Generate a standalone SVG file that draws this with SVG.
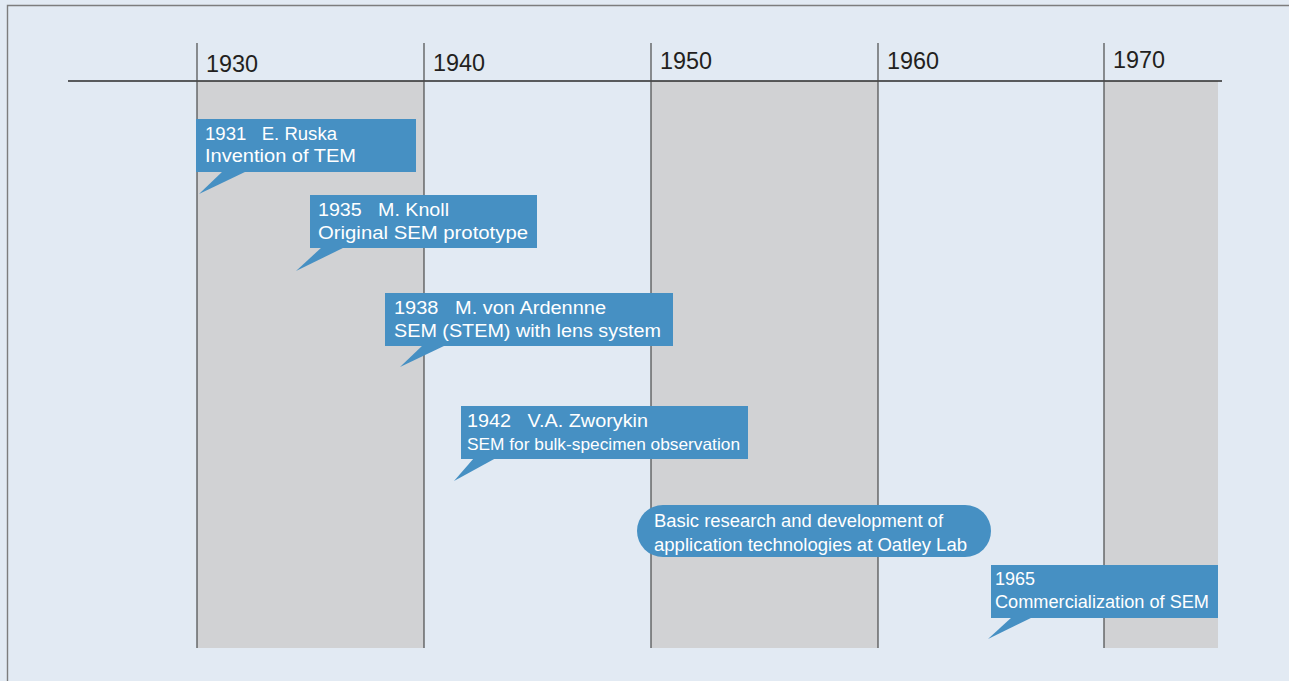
<svg xmlns="http://www.w3.org/2000/svg" width="1289" height="681" viewBox="0 0 1289 681">
<style>
.bg{fill:#e2eaf3}
.frame{fill:none;stroke:#7d7d7d;stroke-width:1.4}
.band{fill:#d1d2d4}
.vline{stroke:#4a4a4a;stroke-width:1.2}
.axis{stroke:#2b2b2b;stroke-width:1.4}
.year{font-family:"Liberation Sans",Arial,sans-serif;font-size:23px;fill:#231f20}
.box{fill:#4690c3}
.t{font-family:"Liberation Sans",Arial,sans-serif;font-size:17.5px;fill:#ffffff;white-space:pre}
.s{font-size:16.5px}
</style>
<rect class="bg" x="0" y="0" width="1289" height="681"/>
<path class="frame" d="M7.5 681 V5.5 H1289"/>
<g id="bands">
<rect class="band" x="197" y="81" width="227" height="567"/>
<rect class="band" x="651" y="81" width="227" height="567"/>
<rect class="band" x="1104" y="81" width="114" height="567"/>
</g>
<g id="axis">
<line class="axis" x1="68" y1="81" x2="1222" y2="81"/>
<line class="vline" x1="197" y1="43" x2="197" y2="648"/>
<line class="vline" x1="424" y1="43" x2="424" y2="648"/>
<line class="vline" x1="651" y1="43" x2="651" y2="648"/>
<line class="vline" x1="878" y1="43" x2="878" y2="648"/>
<line class="vline" x1="1104" y1="43" x2="1104" y2="648"/>
<text class="year" x="206" y="72" textLength="52" lengthAdjust="spacingAndGlyphs">1930</text>
<text class="year" x="433" y="70.5" textLength="52" lengthAdjust="spacingAndGlyphs">1940</text>
<text class="year" x="660" y="68.5" textLength="52" lengthAdjust="spacingAndGlyphs">1950</text>
<text class="year" x="887" y="68.5" textLength="52" lengthAdjust="spacingAndGlyphs">1960</text>
<text class="year" x="1113" y="67.5" textLength="52" lengthAdjust="spacingAndGlyphs">1970</text>
</g>
<g id="connectors"></g>
<g id="n1931">
<rect class="box" x="196" y="119" width="220" height="53"/>
<polygon class="box" points="223,171 247,171 199,194"/>
<text class="t" x="205" y="139.5" textLength="132" lengthAdjust="spacingAndGlyphs" xml:space="preserve">1931   E. Ruska</text>
<text class="t" x="205" y="162" textLength="151" lengthAdjust="spacingAndGlyphs">Invention of TEM</text>
</g>
<g id="n1935">
<rect class="box" x="310" y="195" width="227" height="53"/>
<polygon class="box" points="322,247 345,247 296,271"/>
<text class="t" x="318" y="215.5" textLength="131" lengthAdjust="spacingAndGlyphs" xml:space="preserve">1935   M. Knoll</text>
<text class="t" x="318" y="239" textLength="210" lengthAdjust="spacingAndGlyphs">Original SEM prototype</text>
</g>
<g id="n1938">
<rect class="box" x="385" y="293" width="288" height="53"/>
<polygon class="box" points="423,345 446,345 400,367"/>
<text class="t" x="394" y="313.5" textLength="212" lengthAdjust="spacingAndGlyphs" xml:space="preserve">1938   M. von Ardennne</text>
<text class="t" x="394" y="337" textLength="267" lengthAdjust="spacingAndGlyphs">SEM (STEM) with lens system</text>
</g>
<g id="n1942">
<rect class="box" x="461" y="406" width="287" height="53"/>
<polygon class="box" points="474,458 496,458 454,481"/>
<text class="t" x="467" y="426.5" textLength="181" lengthAdjust="spacingAndGlyphs" xml:space="preserve">1942   V.A. Zworykin</text>
<text class="t s" x="467" y="449.5" textLength="273" lengthAdjust="spacingAndGlyphs">SEM for bulk-specimen observation</text>
</g>
<g id="oatley">
<rect class="box" x="637" y="505" width="354" height="52" rx="26" ry="26"/>
<text class="t" x="654" y="527" textLength="289" lengthAdjust="spacingAndGlyphs">Basic research and development of</text>
<text class="t" x="654" y="550.5" textLength="313" lengthAdjust="spacingAndGlyphs">application technologies at Oatley Lab</text>
</g>
<g id="n1965">
<rect class="box" x="991" y="565" width="227" height="53"/>
<polygon class="box" points="1012,617 1033,617 988,639"/>
<text class="t" x="995" y="584.5" textLength="40" lengthAdjust="spacingAndGlyphs">1965</text>
<text class="t" x="995" y="607.5" textLength="214" lengthAdjust="spacingAndGlyphs">Commercialization of SEM</text>
</g>
</svg>
